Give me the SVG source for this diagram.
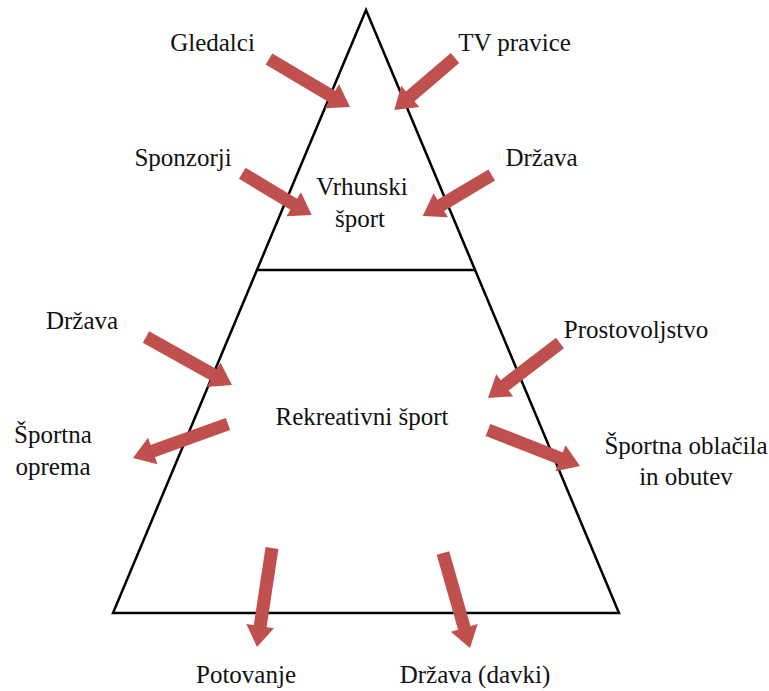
<svg xmlns="http://www.w3.org/2000/svg" width="769" height="691" viewBox="0 0 769 691">
<style>
.lbl{font-size:25px;fill:#111;text-anchor:middle}
.ar{stroke:#C0504D;stroke-width:13;fill:none;marker-end:url(#head)}
.pyr{fill:none;stroke:#000;stroke-width:2.5;stroke-linejoin:miter}
</style>
<defs>
<marker id="head" markerUnits="userSpaceOnUse" markerWidth="22" markerHeight="30" viewBox="0 -15 22 30" refX="0" refY="0" orient="auto" overflow="visible">
<path d="M-1,-14 L20,0 L-1,14 Z" fill="#C0504D"/>
</marker>
</defs>
<rect width="769" height="691" fill="#fff"/>
<g id="pyramid">
<path class="pyr" d="M366,10 L113,613 L619,613 Z"/>
<line class="pyr" x1="257.7" y1="270" x2="475" y2="270"/>
</g>
<g font-family="'Liberation Serif', 'DejaVu Serif', serif">
<g id="vrhunski"><text class="lbl" x="362" y="195">Vrhunski</text><text class="lbl" x="360" y="227">šport</text></g>
<g id="rekreativni"><text class="lbl" x="362" y="425">Rekreativni šport</text></g>
<g id="gledalci"><text class="lbl" x="212.5" y="51">Gledalci</text></g>
<g id="tvpravice"><text class="lbl" x="514.5" y="51">TV pravice</text></g>
<g id="sponzorji"><text class="lbl" x="183" y="166">Sponzorji</text></g>
<g id="drzava1"><text class="lbl" x="541.5" y="166">Država</text></g>
<g id="drzava2"><text class="lbl" x="82" y="329">Država</text></g>
<g id="prostovoljstvo"><text class="lbl" x="636" y="338">Prostovoljstvo</text></g>
<g id="oprema"><text class="lbl" x="53" y="443">Športna</text><text class="lbl" x="53" y="475">oprema</text></g>
<g id="oblacila"><text class="lbl" x="686" y="454">Športna oblačila</text><text class="lbl" x="686" y="485">in obutev</text></g>
<g id="potovanje"><text class="lbl" x="246" y="683">Potovanje</text></g>
<g id="davki"><text class="lbl" x="475" y="683">Država (davki)</text></g>
</g>
<g id="connectors">
<line class="ar" x1="269" y1="59" x2="332.8" y2="96.8"/>
<line class="ar" x1="455" y1="58" x2="409.5" y2="97"/>
<line class="ar" x1="242.3" y1="173.3" x2="294.6" y2="204.7"/>
<line class="ar" x1="491.7" y1="175" x2="439.9" y2="205.8"/>
<line class="ar" x1="146" y1="337" x2="214.5" y2="375.3"/>
<line class="ar" x1="560" y1="343" x2="503.9" y2="385.9"/>
<line class="ar" x1="228" y1="424" x2="151.8" y2="451.3"/>
<line class="ar" x1="488" y1="430" x2="561.4" y2="458.7"/>
<line class="ar" x1="272" y1="548" x2="260" y2="627.2"/>
<line class="ar" x1="443" y1="553" x2="464.5" y2="628.8"/>
</g>
</svg>
